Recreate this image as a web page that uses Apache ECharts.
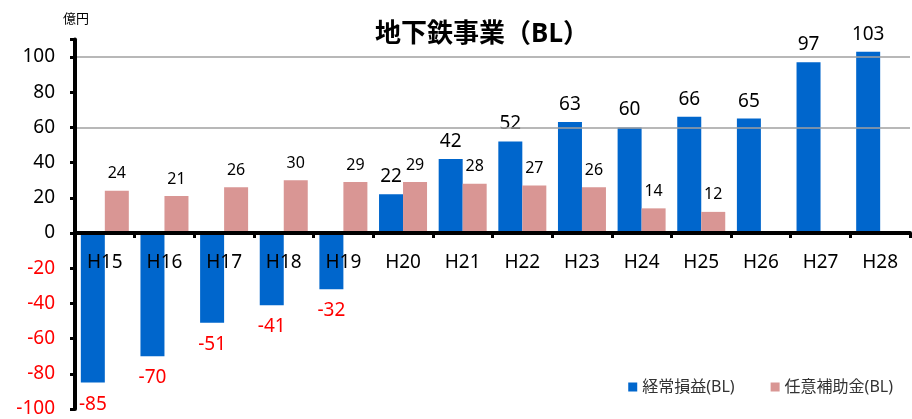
<!DOCTYPE html>
<html><head><meta charset="utf-8">
<script src="https://cdn.jsdelivr.net/npm/echarts@6/dist/echarts.min.js"></script>
<style>html,body{margin:0;padding:0;background:#fff}#c{width:912px;height:419px}</style>
</head><body><div id="c"></div>
<script>
const categories = ['H15','H16','H17','H18','H19','H20','H21','H22','H23','H24','H25','H26','H27','H28'];
const profitBL = [-85,-70,-51,-41,-32,22,42,52,63,60,66,65,97,103];
const subsidyBL = [24,21,26,30,29,29,28,27,26,14,12,null,null,null];
const gridValues = [100,60];
const FONT = '"Noto Sans", "Noto Sans CJK JP", sans-serif';

const chart = echarts.init(document.getElementById('c'));
chart.setOption({
  animation:false,
  textStyle:{fontFamily:FONT},
  title:{text:'地下鉄事業（BL）',left:477,top:17,textAlign:'center',
    textStyle:{fontSize:26,fontWeight:'bold',color:'#000',fontFamily:FONT}},
  graphic:[{type:'text',left:63,top:13,style:{text:'億円',fontSize:13,fill:'#000',fontFamily:FONT}}],
  legend:{right:14,bottom:19,itemWidth:9,itemHeight:9,itemGap:36,icon:'rect',
    textStyle:{fontSize:16,color:'#333',fontFamily:FONT},
    data:['経常損益(BL)','任意補助金(BL)']},
  grid:{left:75,right:2,top:39.4,bottom:10,outerBoundsMode:'none',containLabel:false},
  xAxis:{type:'category',data:categories,position:'bottom',offset:-176,z:10,
    axisLine:{onZero:false,lineStyle:{color:'#000',width:4}},
    axisTick:{show:true,length:5,lineStyle:{color:'#000',width:3}},
    axisLabel:{fontSize:19,color:'#000',margin:20,fontFamily:FONT},
    splitLine:{show:false}},
  yAxis:{type:'value',min:-100,max:110,interval:20,z:10,
    axisLine:{show:true,lineStyle:{color:'#000',width:4}},
    axisTick:{show:true,length:5,lineStyle:{color:'#000',width:3}},
    axisLabel:{fontSize:19,margin:20,fontFamily:FONT,
      formatter:v=> v>100 ? '' : String(v),
      color:v=> (v<0 ? '#FF0000' : '#000')},
    splitLine:{show:false}},
  series:[
    {name:'経常損益(BL)',type:'bar',barWidth:24,barGap:'0%',
      itemStyle:{color:'#0066CC'},
      data:profitBL.map(v=>({value:v,label:{show:true,
        position: v<0 ? 'bottom':'top',
        color: v<0 ? '#FF0000':'#000',
        fontSize:19,distance: v<0?12:8,fontFamily:FONT}})),
      markLine:{silent:true,symbol:'none',label:{show:false},
        lineStyle:{color:'#A0A0A0',width:1.5,type:'solid'},
        data:gridValues.map(v=>({yAxis:v}))}},
    {name:'任意補助金(BL)',type:'bar',barWidth:24,
      itemStyle:{color:'#D99694'},
      label:{show:true,position:'top',fontSize:16,color:'#000',distance:9,fontFamily:FONT},
      data:subsidyBL}
  ]
});
</script></body></html>
